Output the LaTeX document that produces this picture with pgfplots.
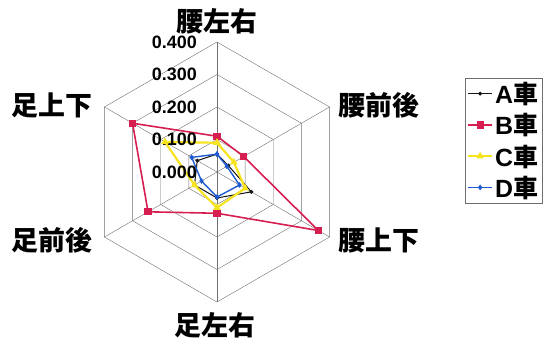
\documentclass[border=0pt]{standalone}
\usepackage{fontspec}
\setmainfont{Liberation Sans}
\newfontfamily\jp{Noto Sans CJK JP}
\usepackage{pgfplots}
\pgfplotsset{compat=1.18}
\usepgfplotslibrary{polar}
\usetikzlibrary{calc}

\definecolor{gridc}{RGB}{110,110,110}
\definecolor{cA}{RGB}{20,20,20}
\definecolor{cB}{RGB}{214,30,80}
\definecolor{cC}{RGB}{248,228,30}
\definecolor{cD}{RGB}{30,90,210}

\tikzset{ticknode/.style={anchor=east, font=\bfseries\fontsize{18}{20}\selectfont,
        inner sep=0pt, xshift=-20bp}}

% angle = axis direction, r = value
% 90 腰左右, 30 腰前後, 330 腰上下, 270 足左右, 210 足前後, 150 足上下
\pgfplotstableread{
ang A     B     C     D
90  0.055 0.110 0.090 0.055
30  0.040 0.095 0.060 0.035
330 0.122 0.360 0.100 0.080
270 0.080 0.127 0.110 0.077
210 0.080 0.245 0.080 0.055
150 0.070 0.300 0.185 0.090
90  0.055 0.110 0.090 0.055
}\radar

\begin{document}
\begin{tikzpicture}
\begin{polaraxis}[
    scale only axis, width=260bp, height=260bp,
    ymin=0, ymax=0.4, hide axis, clip=false,
    legend style={at={(axis cs:20.76,0.8156)}, anchor=north west,
        draw=gridc, fill=white, font=\bfseries\fontsize{25}{27}\selectfont,
        inner sep=2bp, row sep=4.5bp,
        /tikz/every even column/.append style={column sep=1bp}},
    legend cell align=left,
    legend image code/.code={\draw[mark repeat=2, mark phase=2, #1]
        plot coordinates {(0bp,0bp)(12bp,0bp)(24bp,0bp)};},
]
% hexagon grid
\pgfplotsinvokeforeach{0.1,0.2,0.3,0.4}{
  \addplot[gridc, thin, forget plot] coordinates
    {(90,#1)(30,#1)(330,#1)(270,#1)(210,#1)(150,#1)(90,#1)};
}
\pgfplotsinvokeforeach{90,30,330,270,210,150}{
  \addplot[gridc, thin, forget plot] coordinates {(#1,0)(#1,0.4)};
}

\addplot[cA, line width=1pt, mark=*, mark size=1.4bp] table[x=ang, y=A] {\radar};
\addplot[cB, line width=1.6pt, mark=square*, mark size=2.8bp] table[x=ang, y=B] {\radar};
\addplot[cC, line width=2.2pt, mark=triangle*, mark size=2.2bp] table[x=ang, y=C] {\radar};
\addplot[cD, line width=1.4pt, mark=diamond*, mark size=1.8bp] table[x=ang, y=D] {\radar};
\legend{A{\jp\bfseries 車}, B{\jp\bfseries 車}, C{\jp\bfseries 車}, D{\jp\bfseries 車}}

\coordinate (c) at (axis cs:0,0);
\node[ticknode] at (axis cs:90,0.4) {0.400};
\node[ticknode] at (axis cs:90,0.3) {0.300};
\node[ticknode] at (axis cs:90,0.2) {0.200};
\node[ticknode] at (axis cs:90,0.1) {0.100};
\node[ticknode] at (axis cs:90,0) {0.000};
\end{polaraxis}

\begin{scope}[every node/.style={font=\jp\bfseries\fontsize{27}{28}\selectfont, inner sep=0pt}]
\node at ($(c)+(0bp,151bp)$) {腰左右};
\node at ($(c)+(162bp,67bp)$) {腰前後};
\node at ($(c)+(162bp,-68bp)$) {腰上下};
\node at ($(c)+(-2bp,-153bp)$) {足左右};
\node at ($(c)+(-165bp,-68bp)$) {足前後};
\node at ($(c)+(-165bp,67bp)$) {足上下};
\end{scope}

\pgfresetboundingbox
\path[use as bounding box] ($(c)+(-217bp,-171bp)$) rectangle ($(c)+(335bp,172bp)$);
\end{tikzpicture}
\end{document}
